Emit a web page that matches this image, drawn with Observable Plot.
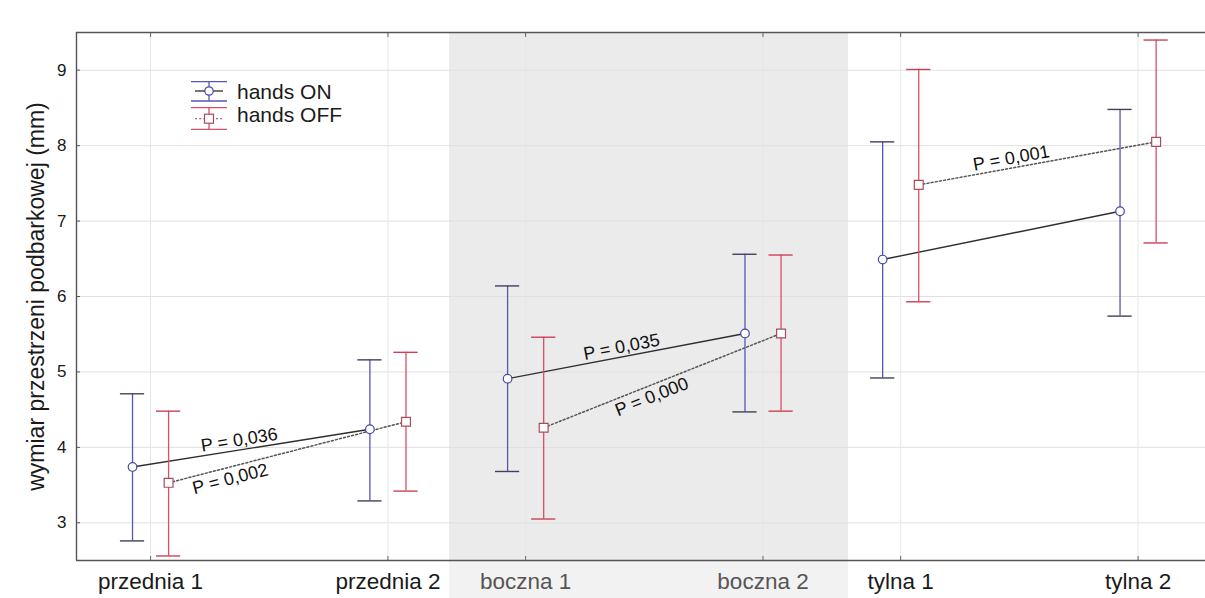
<!DOCTYPE html>
<html>
<head>
<meta charset="utf-8">
<script src="https://cdn.jsdelivr.net/npm/d3@7"></script>
<script src="https://cdn.jsdelivr.net/npm/@observablehq/plot@0.6"></script>
<style>
  body { margin: 0; background: #fff; }
  #chart { position: relative; width: 1205px; height: 598px; font-family: Arial, "Liberation Sans", sans-serif; }
  #chart svg { display: block; }
  #legend { position: absolute; left: 0; top: 0; pointer-events: none; }
</style>
</head>
<body>
<div id="chart"></div>
<script>
// ---- data -------------------------------------------------------------
const regions = ["przednia", "boczna", "tylna"];
const categories = ["przednia 1", "przednia 2", "boczna 1", "boczna 2", "tylna 1", "tylna 2"];
const seriesNames = ["hands ON", "hands OFF"];

// means and 95% confidence limits (mm)
const onMean  = [3.74, 4.24, 4.91, 5.51, 6.49, 7.13];
const onLow   = [2.76, 3.29, 3.68, 4.47, 4.92, 5.74];
const onHigh  = [4.71, 5.16, 6.14, 6.56, 8.05, 8.48];
const offMean = [3.53, 4.34, 4.26, 5.51, 7.48, 8.05];
const offLow  = [2.56, 3.42, 3.05, 4.48, 5.93, 6.71];
const offHigh = [4.48, 5.26, 5.46, 6.55, 9.01, 9.40];

// p-values of the 1 -> 2 change within each region
const pOn  = ["P = 0,036", "P = 0,035", null];
const pOff = ["P = 0,002", "P = 0,000", "P = 0,001"];

const yTicks = [3, 4, 5, 6, 7, 8, 9];
const yTitle = "wymiar przestrzeni podbarkowej (mm)";

// ---- layout -----------------------------------------------------------
const GROUP_STEP = 1.58;   // distance between the first points of adjacent regions
const DODGE = 0.076;       // side offset of the two series around a category
const CAP = 0.051;         // half width of an error-bar cap
const X_DOMAIN = [-0.312, 4.444];
const Y_DOMAIN = [2.5, 9.5];
const slot = (i) => Math.floor(i / 2) * GROUP_STEP + (i % 2);
const slots = categories.map((_, i) => slot(i));
const nameAt = new Map(slots.map((s, i) => [s, categories[i]]));
const shaded = "boczna";
const shadedIdx = categories.map((c, i) => i).filter((i) => regions[Math.floor(i / 2)] === shaded);
const band = [{x1: slot(shadedIdx[0]) - 0.32, x2: slot(shadedIdx[1]) + 0.36}];

// label placement along each connecting segment: fraction and side
const labelPlace = {
  "hands ON":  [{t: 0.45, side: "above"}, {t: 0.48, side: "above"}, null],
  "hands OFF": [{t: 0.26, side: "below"}, {t: 0.455, side: "below"}, {t: 0.39, side: "above"}]
};

const look = {
  "hands ON":  {stem: "#5656b6", cap: "#40405e", dot: "#4848a2", line: "#2e2e2e", dash: null, symbol: "circle", r: 4.3},
  "hands OFF": {stem: "#da4e68", cap: "#cc4258", dot: "#a84c5a", line: "#555555", dash: "2,2.2", symbol: "square", r: 5}
};

// ---- table ------------------------------------------------------------
const rows = [];
categories.forEach((cat, i) => {
  const region = regions[Math.floor(i / 2)];
  rows.push({cat, i, region, series: "hands ON", mean: onMean[i], low: onLow[i], high: onHigh[i]});
  rows.push({cat, i, region, series: "hands OFF", mean: offMean[i], low: offLow[i], high: offHigh[i]});
});
const xOf = (d) => slot(d.i) + (d.series === "hands ON" ? -DODGE : DODGE);

// ---- marks ------------------------------------------------------------
const baseMarks = [
  Plot.rect(band, {x1: "x1", x2: "x2", fill: "#f2f2f2", insetBottom: -38}),
  Plot.rect(band, {x1: "x1", x2: "x2", fill: "#ebebeb"}),
  Plot.ruleY(yTicks, {stroke: "#e0e0e0", strokeWidth: 1}),
  Plot.ruleX(slots, {stroke: "#e6e6e6", strokeWidth: 1})
];

for (const s of seriesNames) {
  const sub = rows.filter((d) => d.series === s);
  const L = look[s];
  baseMarks.push(
    Plot.line(sub, {x: xOf, y: "mean", z: "region", stroke: L.line, strokeWidth: s === "hands ON" ? 1.4 : 1.5, strokeDasharray: L.dash})
  );
}
for (const s of seriesNames) {
  const sub = rows.filter((d) => d.series === s);
  const L = look[s];
  baseMarks.push(
    Plot.ruleX(sub, {x: xOf, y1: "low", y2: "high", stroke: L.stem, strokeWidth: 1.3}),
    Plot.ruleY(sub, {y: "low", x1: (d) => xOf(d) - CAP, x2: (d) => xOf(d) + CAP, stroke: L.cap, strokeWidth: 1.4}),
    Plot.ruleY(sub, {y: "high", x1: (d) => xOf(d) - CAP, x2: (d) => xOf(d) + CAP, stroke: L.cap, strokeWidth: 1.4})
  );
}
for (const s of seriesNames) {
  const sub = rows.filter((d) => d.series === s);
  const L = look[s];
  baseMarks.push(
    Plot.dot(sub, {x: xOf, y: "mean", symbol: L.symbol, r: L.r, fill: "white", stroke: L.dot, strokeWidth: 1.2})
  );
}

// frame lines and axes
const darkTicks = slots.filter((s) => !nameAt.get(s).startsWith(shaded));
const grayTicks = slots.filter((s) => nameAt.get(s).startsWith(shaded));
baseMarks.push(
  Plot.ruleY([Y_DOMAIN[1]], {stroke: "#555", strokeWidth: 1.4}),
  Plot.ruleY([Y_DOMAIN[0]], {stroke: "#555", strokeWidth: 1.4}),
  Plot.ruleX([X_DOMAIN[0]], {stroke: "#555", strokeWidth: 1.4}),
  Plot.axisY(yTicks, {anchor: "left", tickSize: -4, fill: "none", stroke: "#555", label: null}),
  Plot.axisX(slots, {anchor: "bottom", tickSize: -4, fill: "none", stroke: "#666", label: null}),
  Plot.axisX(slots, {anchor: "top", tickSize: -4, fill: "none", stroke: "#666", label: null}),
  Plot.axisY(yTicks, {anchor: "left", tickSize: 0, tickPadding: 10, fontSize: 17, fill: "#1a1a1a", tickFormat: (v) => String(v), label: null}),
  Plot.axisX(darkTicks, {anchor: "bottom", tickSize: 0, tickPadding: 13, fontSize: 22.5, fill: "#1a1a1a", tickFormat: (v) => nameAt.get(v), label: null}),
  Plot.axisX(grayTicks, {anchor: "bottom", tickSize: 0, tickPadding: 13, fontSize: 22.5, fill: "#555", tickFormat: (v) => nameAt.get(v), label: null}),
  Plot.text([yTitle], {text: (d) => d, frameAnchor: "left", textAnchor: "middle", rotate: -90, dx: -40, fontSize: 23, fill: "#1a1a1a"})
);

const options = (marks) => ({
  width: 1205,
  height: 598,
  marginLeft: 76,
  marginRight: 0,
  marginTop: 32,
  marginBottom: 38,
  x: {domain: X_DOMAIN},
  y: {domain: Y_DOMAIN},
  style: {fontFamily: 'Arial, "Liberation Sans", sans-serif', background: "transparent", overflow: "visible"},
  marks
});

// first pass: read the pixel scales to tilt the p-value labels along their segments
const probe = Plot.plot(options(baseMarks));
const sx = probe.scale("x"), sy = probe.scale("y");

const labels = [];
regions.forEach((region, g) => {
  for (const s of seriesNames) {
    const txt = (s === "hands ON" ? pOn : pOff)[g];
    const place = labelPlace[s][g];
    if (!txt || !place) continue;
    const [a, b] = rows.filter((d) => d.region === region && d.series === s);
    const xa = xOf(a), xb = xOf(b);
    const ang = Math.atan2(sy.apply(b.mean) - sy.apply(a.mean), sx.apply(xb) - sx.apply(xa)) * 180 / Math.PI;
    labels.push({
      text: txt,
      x: xa + (xb - xa) * place.t,
      y: a.mean + (b.mean - a.mean) * place.t,
      angle: ang,
      side: place.side
    });
  }
});

const finalMarks = baseMarks.concat([
  Plot.text(labels.filter((d) => d.side === "above"), {x: "x", y: "y", text: "text", rotate: "angle", dy: -10, fontSize: 18, fill: "#111"}),
  Plot.text(labels.filter((d) => d.side === "below"), {x: "x", y: "y", text: "text", rotate: "angle", dy: 12, fontSize: 18, fill: "#111"})
]);

const chart = Plot.plot(options(finalMarks));
document.getElementById("chart").appendChild(chart);

// ---- legend -----------------------------------------------------------
const lg = d3.select("#chart").append("svg")
  .attr("id", "legend").attr("width", 1205).attr("height", 598);
const entries = [
  {name: "hands ON", top: 81.7, mid: 91, bottom: 101, textY: 91.5},
  {name: "hands OFF", top: 107.7, mid: 118.7, bottom: 129.3, textY: 114.5}
];
const gx0 = 191, gx1 = 227, gc = 209;
for (const e of entries) {
  const L = look[e.name];
  lg.append("line").attr("x1", gx0).attr("x2", gx1).attr("y1", e.top).attr("y2", e.top).attr("stroke", L.stem).attr("stroke-width", 1.3);
  lg.append("line").attr("x1", gx0).attr("x2", gx1).attr("y1", e.bottom).attr("y2", e.bottom).attr("stroke", L.stem).attr("stroke-width", 1.3);
  lg.append("line").attr("x1", gc).attr("x2", gc).attr("y1", e.top).attr("y2", e.bottom).attr("stroke", L.stem).attr("stroke-width", 1.3);
  lg.append("line").attr("x1", gx0 + 4).attr("x2", gx1 - 4).attr("y1", e.mid).attr("y2", e.mid)
    .attr("stroke", e.name === "hands ON" ? L.line : "#b06070").attr("stroke-width", 1.3)
    .attr("stroke-dasharray", L.dash);
  if (L.symbol === "circle") {
    lg.append("circle").attr("cx", gc).attr("cy", e.mid).attr("r", 4.2).attr("fill", "white").attr("stroke", L.dot).attr("stroke-width", 1.2);
  } else {
    lg.append("rect").attr("x", gc - 4.5).attr("y", e.mid - 4.5).attr("width", 9).attr("height", 9).attr("fill", "white").attr("stroke", L.dot).attr("stroke-width", 1.2);
  }
  lg.append("text").attr("x", 237).attr("y", e.textY).attr("dy", "0.35em")
    .attr("font-size", 21).attr("fill", "#1a1a1a").text(e.name);
}
</script>
</body>
</html>
